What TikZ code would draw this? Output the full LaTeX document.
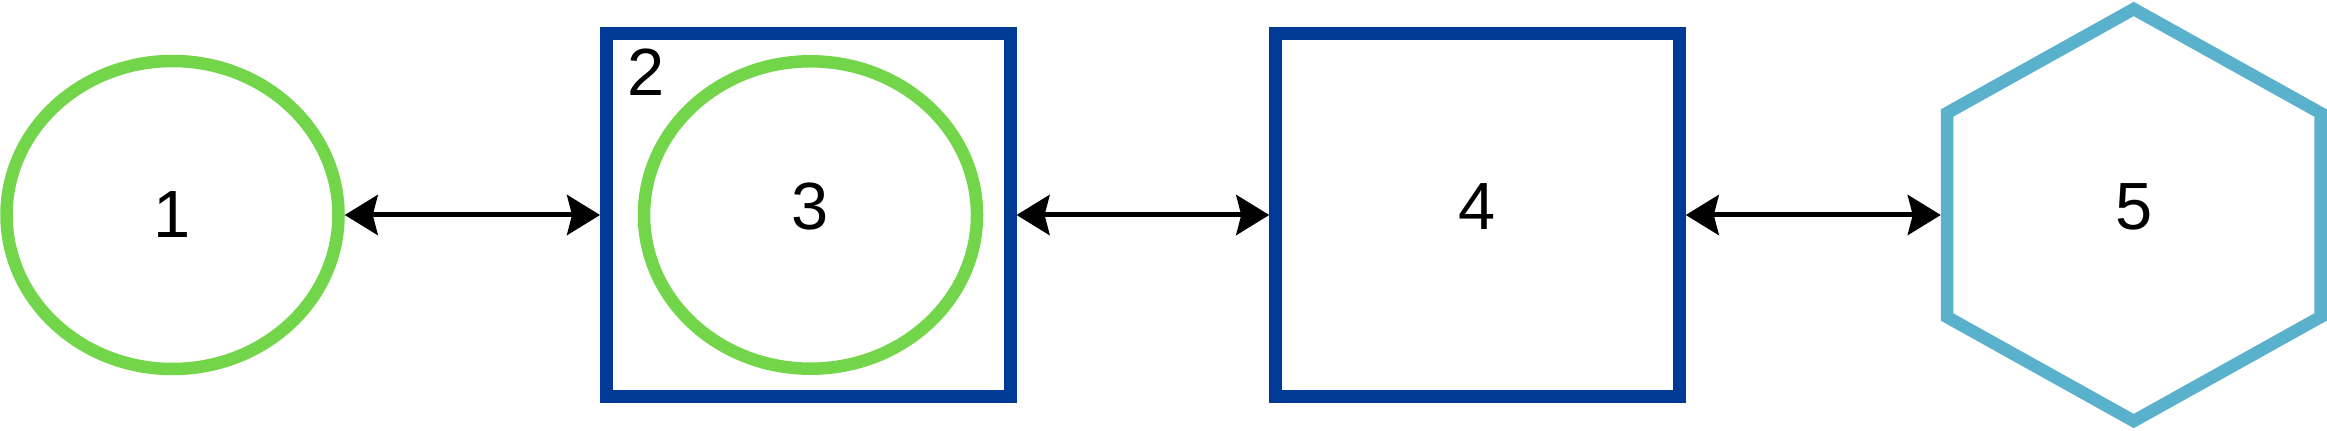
\documentclass[tikz,border=0pt]{standalone}
\usepackage{fontspec}
\setmainfont{Liberation Sans}
\usetikzlibrary{shapes.geometric,arrows.meta}
\definecolor{leaf}{HTML}{72D54A}
\definecolor{navy}{HTML}{003A96}
\definecolor{sky}{HTML}{5AB1CC}

\begin{document}
\begin{tikzpicture}[
    oval/.style={ellipse,draw=leaf,line width=1.25mm,inner sep=0pt},
    box/.style={rectangle,draw=navy,line width=1.25mm,inner sep=0pt,
      minimum width=4.04cm,minimum height=3.633cm},
    link/.style={arrows={Stealth[length=3.3mm,width=4mm,inset=0.5mm]-Stealth[length=3.3mm,width=4mm,inset=0.5mm]},
      line width=0.5mm},
    raised/.style={text depth=1.7mm},
    font=\fontsize{19}{22}\selectfont]
  \useasboundingbox (0,0) rectangle (23.27,4.30);
  \node[oval,minimum width=3.32cm,minimum height=3.08cm] (e1) at(1.725,2.15) {1};
  \node[box] (b2) at(8.083,2.15) {};
  \node[anchor=north west,inner sep=0pt] (t2) at(6.27,3.82) {2};
  \node[oval,raised,minimum width=3.33cm,minimum height=3.074cm] (e3) at(8.105,2.15) {3};
  \node[box,raised] (b4) at(14.775,2.15) {4};
  \draw[sky,line width=1.25mm] (21.3375,4.21) -- (23.205,3.17) -- (23.205,1.13)
    -- (21.3375,0.09) -- (19.47,1.13) -- (19.47,3.17) -- cycle;
  \node[raised] (h5) at(21.3375,2.15) {5};
  \coordinate (h5w) at(19.4075,2.15);
  \draw[link] (e1)-- (b2);
  \draw[link] (b2)-- (b4);
  \draw[link] (b4)-- (h5w);
\end{tikzpicture}
\end{document}
